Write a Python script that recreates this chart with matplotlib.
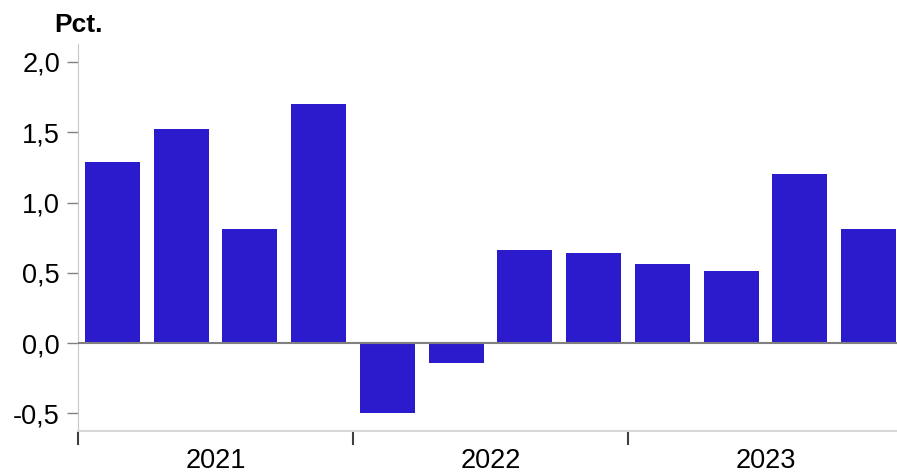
import numpy as np
import matplotlib.pyplot as plt

plt.rcParams['font.family'] = ['Liberation Sans', 'DejaVu Sans']

# Kvartalsvis vækst, pct.
kvartaler = ['2021K1', '2021K2', '2021K3', '2021K4',
             '2022K1', '2022K2', '2022K3', '2022K4',
             '2023K1', '2023K2', '2023K3', '2023K4']
vaekst = [1.29, 1.52, 0.81, 1.70, -0.50, -0.14, 0.66, 0.64, 0.56, 0.51, 1.20, 0.81]
aar = ['2021', '2022', '2023']
yticks = [-0.5, 0.0, 0.5, 1.0, 1.5, 2.0]

fig = plt.figure(figsize=(8.97, 4.72), dpi=100)
ax = fig.add_axes([78/897, 41/472, 825/897, 387/472])

x = np.arange(len(vaekst))
ax.bar(x, vaekst, width=0.8, color='#2b1bcc', zorder=2)
ax.axhline(0, color='#808080', lw=1.5, zorder=3)

ax.set_xlim(-0.5, len(vaekst) - 0.5)
ax.set_ylim(-0.626, 2.128)

ax.set_yticks(yticks)
ax.set_yticklabels([f'{v:.1f}'.replace('.', ',') for v in yticks], fontsize=19.5)
ax.tick_params(axis='y', length=8, width=1, color='#808080', pad=5)

# aarsmarkering: ticks mellem aar, labels centreret
ax.set_xticks([-0.5, 3.5, 7.5])
ax.set_xticklabels([])
ax.set_xticks([1.5, 5.5, 9.5], minor=True)
ax.set_xticklabels(aar, minor=True, fontsize=19.5)
ax.tick_params(axis='x', which='major', length=10, width=1.5, color='#404040', direction='out')
ax.tick_params(axis='x', which='minor', length=0, pad=12)

for s in ['top', 'right']:
    ax.spines[s].set_visible(False)
ax.spines['left'].set_color('#c8c8c8')
ax.spines['bottom'].set_color('#d8d8d8')
ax.spines['bottom'].set_linewidth(1.5)

fig.text(78/897, 1 - 25/472, 'Pct.', fontsize=19, fontweight='bold', ha='center', va='center')

fig.savefig('out.png', dpi=100)
